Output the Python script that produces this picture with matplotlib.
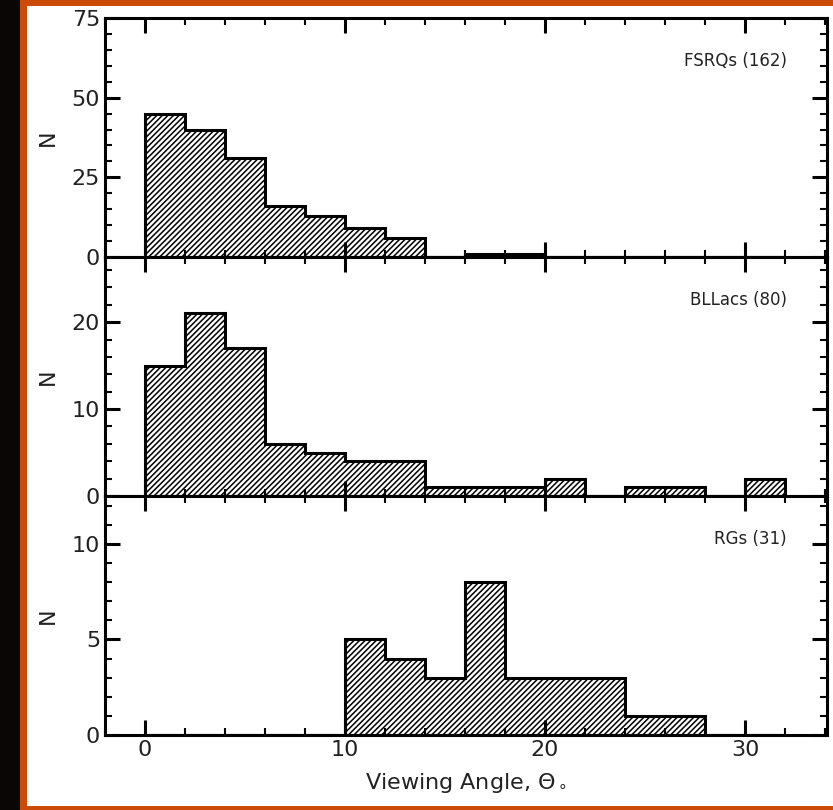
import numpy as np
import matplotlib
matplotlib.use("Agg")
import matplotlib.pyplot as plt
from matplotlib.patches import Rectangle
from matplotlib.ticker import MultipleLocator

# bin edges (degrees) and counts per class
edges = np.arange(0, 34, 2)

fsrq_counts = [45, 40, 31, 16, 13, 9, 6, 0, 1, 1, 0, 0, 0, 0, 0, 0]
bllac_counts = [15, 21, 17, 6, 5, 4, 4, 1, 1, 1, 2, 0, 1, 1, 0, 2]
rg_counts = [0, 0, 0, 0, 0, 5, 4, 3, 8, 3, 3, 3, 1, 1, 0, 0]

labels = ["FSRQs (162)", "BLLacs (80)", "RGs (31)"]
ylims = [75, 27.5, 12.5]
y_major = [25, 10, 5]
y_minor = [5, 2, 1]

plt.rcParams["hatch.linewidth"] = 1.1

fig = plt.figure(figsize=(8.33, 8.10), dpi=100)

# frame around the picture
fig.patches.append(Rectangle((0, 0), 20 / 833, 1, transform=fig.transFigure,
                             facecolor="#0b0606", edgecolor="none", zorder=-5))
orange = "#cc4a08"
fig.patches.append(Rectangle((20 / 833, 0), 7 / 833, 1, transform=fig.transFigure,
                             facecolor=orange, edgecolor="none", zorder=-5))
fig.patches.append(Rectangle((20 / 833, 1 - 6 / 810), 1, 6 / 810, transform=fig.transFigure,
                             facecolor=orange, edgecolor="none", zorder=-5))
fig.patches.append(Rectangle((20 / 833, 0), 1, 4 / 810, transform=fig.transFigure,
                             facecolor=orange, edgecolor="none", zorder=-5))

left = 105 / 833
right = 827 / 833
top = 1 - 18 / 810
bottom = 1 - 735 / 810
h = (top - bottom) / 3

series = [fsrq_counts, bllac_counts, rg_counts]
axes = []
for i, counts in enumerate(series):
    ax = fig.add_axes([left, top - (i + 1) * h, right - left, h])
    ax.hist(edges[:-1], bins=edges, weights=counts, histtype="stepfilled",
            facecolor="white", edgecolor="black", hatch="//////", linewidth=2.2)
    ax.set_xlim(-2, 34.1)
    ax.set_ylim(0, ylims[i])
    ax.xaxis.set_major_locator(MultipleLocator(10))
    ax.xaxis.set_minor_locator(MultipleLocator(2))
    ax.yaxis.set_major_locator(MultipleLocator(y_major[i]))
    ax.yaxis.set_minor_locator(MultipleLocator(y_minor[i]))
    ax.tick_params(which="both", direction="in", top=True, right=True,
                   labelsize=16, colors="black", labelcolor="#222222")
    ax.tick_params(which="major", length=11, width=2.2)
    ax.tick_params(which="minor", length=5, width=1.5)
    for s in ax.spines.values():
        s.set_linewidth(2.2)
    ax.set_ylabel("N", fontsize=16, labelpad=10, color="#222222")
    ax.text(0.944, 0.82, labels[i], transform=ax.transAxes,
            ha="right", va="center", fontsize=12, color="#222222")
    if i < 2:
        ax.tick_params(labelbottom=False)
    axes.append(ax)

axes[-1].set_xlabel(r"Viewing Angle, $\Theta_\circ$", fontsize=16,
                    labelpad=8, color="#222222")

fig.savefig("out.png", dpi=100)
